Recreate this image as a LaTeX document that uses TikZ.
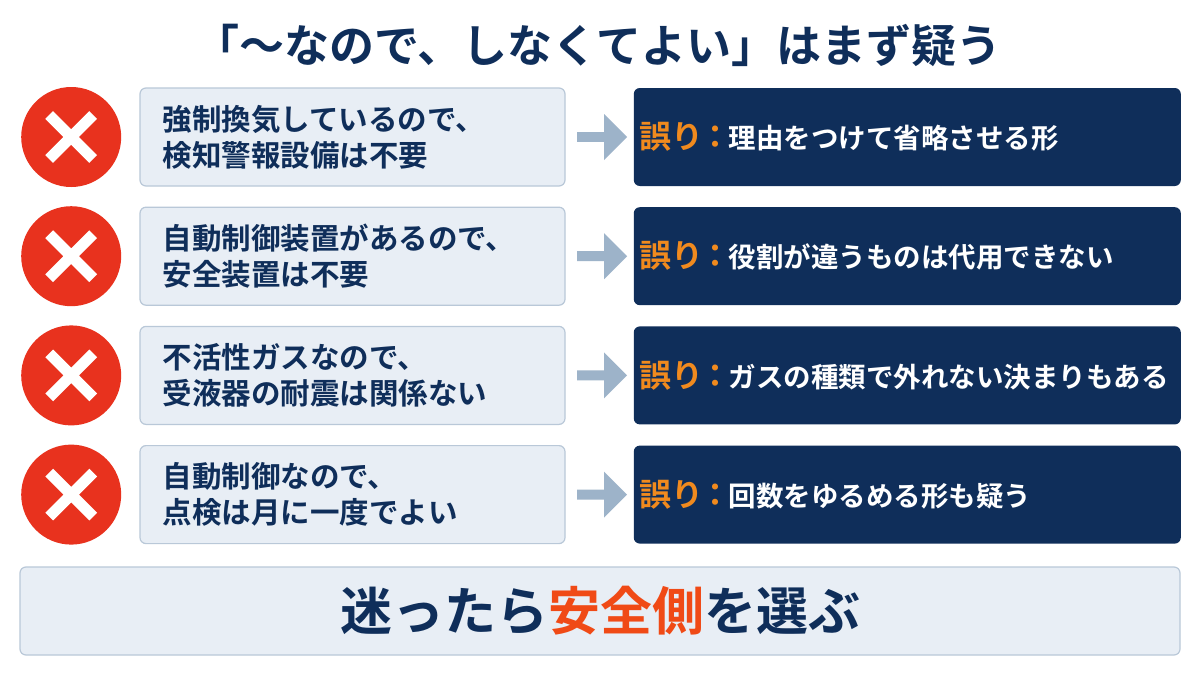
\documentclass[tikz,border=0pt]{standalone}
\usepackage{fontspec}
\setmainfont{Noto Sans CJK JP}[BoldFont={* Bold}]
\usetikzlibrary{arrows.meta,positioning,shapes.arrows}
\definecolor{navy}{HTML}{0F2E5A}
\definecolor{paleblue}{HTML}{E8EEF5}
\definecolor{edgeblue}{HTML}{B9C8D8}
\definecolor{xred}{HTML}{E8321E}
\definecolor{warn}{HTML}{F08A1E}
\definecolor{safe}{HTML}{F04A16}
\definecolor{arrowgray}{HTML}{9DB3C9}
\begin{document}
\begin{tikzpicture}[
  x=1pt,y=-1pt,
  font=\bfseries,
  node distance=20pt and 8pt,
  claim/.style={draw=edgeblue,fill=paleblue,rounded corners=6pt,line width=1.2pt,
    minimum width=425pt,minimum height=98pt,text width=380pt,align=left,
    text=navy,font=\fontsize{29.5}{36}\selectfont\bfseries},
  fix/.style={fill=navy,rounded corners=6pt,minimum width=547pt,minimum height=98pt,
    text width=535pt,align=left,text=white,font=\fontsize{27.5}{36}\selectfont\bfseries},
  bad/.style={circle,fill=xred,minimum size=100pt,inner sep=0pt},
  go/.style={single arrow,fill=arrowgray,minimum height=50pt,minimum width=46pt,
    single arrow head extend=8pt,inner sep=2pt}
]
\useasboundingbox (0,0) rectangle (1200,675);
\fill[white] (0,0) rectangle (1200,675);

% 見出し
\node[text=navy,font=\fontsize{45}{50}\selectfont\bfseries] (title) at (598,45)
  {「～なので、しなくてよい」はまず疑う};

% 左:主張
\node[claim] (c1) at (352.5,137) {強制換気しているので、\\検知警報設備は不要};
\node[claim,below=of c1] (c2) {自動制御装置があるので、\\安全装置は不要};
\node[claim,below=of c2] (c3) {不活性ガスなので、\\受液器の耐震は関係ない};
\node[claim,below=of c3] (c4) {自動制御なので、\\点検は月に一度でよい};

% ×印
\foreach \i in {1,...,4}{
  \node[bad,left=18pt of c\i] (x\i) {};
  \draw[white,line width=11pt] ([shift={(-22pt,-22pt)}]x\i.center) -- ([shift={(22pt,22pt)}]x\i.center)
    ([shift={(-22pt,22pt)}]x\i.center) -- ([shift={(22pt,-22pt)}]x\i.center);
}

% 右:誤り
\node[fix,right=68pt of c1] (f1) {{\color{warn}\fontsize{32}{36}\selectfont 誤り\kern-4pt：\kern-3pt}理由をつけて省略させる形};
\node[fix,right=68pt of c2] (f2) {{\color{warn}\fontsize{32}{36}\selectfont 誤り\kern-4pt：\kern-3pt}役割が違うものは代用できない};
\node[fix,right=68pt of c3] (f3) {{\color{warn}\fontsize{32}{36}\selectfont 誤り\kern-4pt：\kern-3pt}ガスの種類で外れない決まりもある};
\node[fix,right=68pt of c4] (f4) {{\color{warn}\fontsize{32}{36}\selectfont 誤り\kern-4pt：\kern-3pt}回数をゆるめる形も疑う};

% 矢印
\foreach \i in {1,...,4}{
  \path (c\i.east) -- (f\i.west) node[midway,go] (a\i) {};
}

% まとめ
\node[draw=edgeblue,fill=paleblue,rounded corners=6pt,line width=1.2pt,
  minimum width=1160pt,minimum height=88pt,text=navy,
  font=\fontsize{52}{58}\selectfont\bfseries] (sum) at (600,611)
  {迷ったら{\color{safe}安全側}を選ぶ};
\end{tikzpicture}
\end{document}
